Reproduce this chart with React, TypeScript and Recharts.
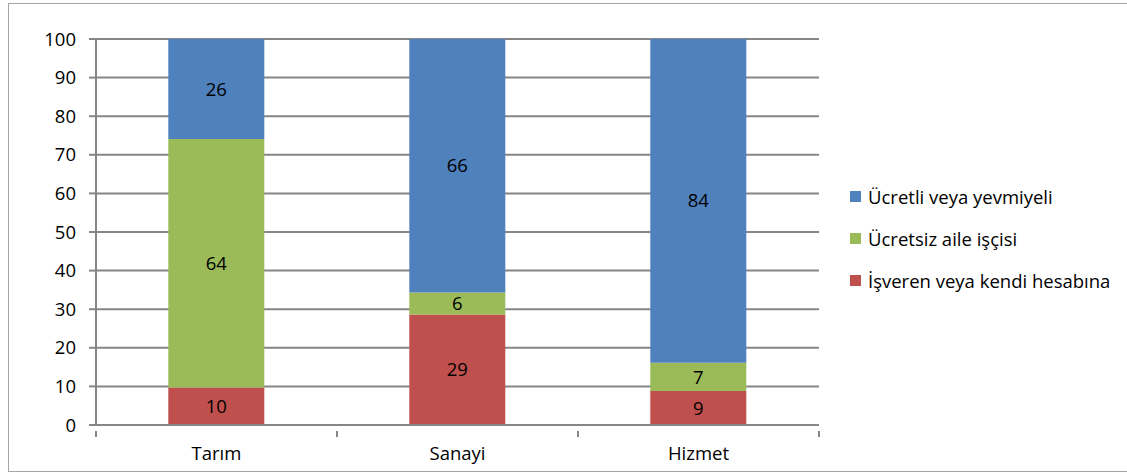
import { BarChart, Bar, XAxis, YAxis, CartesianGrid, Legend, LabelList } from "recharts";

// shares in percent
const categories = ["Tarım", "Sanayi", "Hizmet"];
const isveren = [9.7, 28.6, 8.8];
const ucretsiz = [64.4, 5.7, 7.3];
const ucretli = [25.9, 65.7, 83.9];
const yTicks = [0, 10, 20, 30, 40, 50, 60, 70, 80, 90, 100];

const series = [
    { key: "isveren", name: "İşveren veya kendi hesabına", color: "#C0504D" },
    { key: "ucretsiz", name: "Ücretsiz aile işçisi", color: "#9BBB59" },
    { key: "ucretli", name: "Ücretli veya yevmiyeli", color: "#4F81BD" },
];

const data = categories.map((c, i) => ({
    name: c,
    isveren: isveren[i],
    ucretsiz: ucretsiz[i],
    ucretli: ucretli[i],
}));

const FONT = "'Open Sans', Lato, sans-serif";
const FS = 18.5;
const GRID = "#868686";

// Excel-style category axis: tick marks between categories
function CategoryTick(props: any) {
    const { x, y, payload, index, visibleTicksCount, width } = props;
    const band = width / visibleTicksCount;
    const left = x - band / 2;
    return (
        <g>
            <line x1={left} x2={left} y1={y - 2} y2={y + 4} stroke={GRID} strokeWidth={2} />
            {index === visibleTicksCount - 1 && (
                <line x1={x + band / 2} x2={x + band / 2} y1={y - 2} y2={y + 4} stroke={GRID} strokeWidth={2} />
            )}
            <text x={x} y={y + 27} textAnchor="middle" fill="#000" fontSize={FS} fontFamily={FONT}>
                {payload.value}
            </text>
        </g>
    );
}

function LegendBox() {
    return (
        <div style={{ fontFamily: FONT, fontSize: FS, color: "#000" }}>
            {[...series].reverse().map((s) => (
                <div key={s.key} style={{ display: "flex", alignItems: "center", height: 42 }}>
                    <span style={{ width: 11, height: 11, background: s.color, marginRight: 7, display: "inline-block" }} />
                    <span>{s.name}</span>
                </div>
            ))}
        </div>
    );
}

export default function App() {
    return (
        <div
            style={{
                position: "absolute",
                left: 8,
                top: 3,
                width: 1130,
                height: 467,
                border: "1px solid #a6a6a6",
                background: "#fff",
            }}
        >
            <BarChart
                width={1118}
                height={467}
                data={data}
                barCategoryGap="30%"
                margin={{ top: 35, right: 308, bottom: 16, left: 27 }}
                style={{ fontFamily: FONT }}
            >
                <CartesianGrid vertical={false} stroke={GRID} strokeWidth={2} />
                <XAxis
                    dataKey="name"
                    height={30}
                    tickLine={false}
                    axisLine={{ stroke: GRID, strokeWidth: 2 }}
                    tick={<CategoryTick />}
                    interval={0}
                />
                <YAxis
                    width={60}
                    domain={[0, 100]}
                    ticks={yTicks}
                    interval={0}
                    tickSize={7}
                    tickMargin={13}
                    axisLine={{ stroke: GRID, strokeWidth: 2 }}
                    tickLine={{ stroke: GRID, strokeWidth: 2 }}
                    tick={{ fill: "#000", fontSize: FS, fontFamily: FONT }}
                />
                <Legend
                    layout="horizontal"
                    align="center"
                    verticalAlign="middle"
                    content={<LegendBox />}
                    wrapperStyle={{ left: 841, top: 171, width: 280 }}
                />
                {series.map((s) => (
                    <Bar key={s.key} dataKey={s.key} name={s.name} stackId="a" fill={s.color} isAnimationActive={false}>
                        <LabelList
                            dataKey={s.key}
                            position="center"
                            formatter={(v: any) => Math.round(Number(v))}
                            fill="#000"
                            fontSize={FS}
                            fontFamily={FONT}
                        />
                    </Bar>
                ))}
            </BarChart>
        </div>
    );
}
